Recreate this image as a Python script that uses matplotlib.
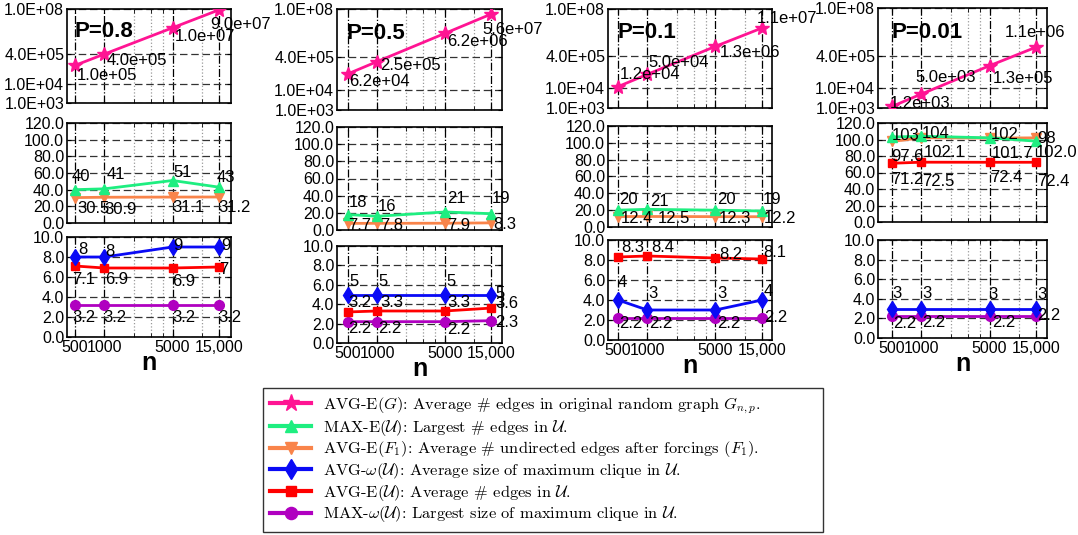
import matplotlib
matplotlib.use('Agg')
import matplotlib.pyplot as plt
from matplotlib.ticker import FixedLocator, NullFormatter, FuncFormatter, NullLocator
from matplotlib.lines import Line2D

plt.rcParams['font.family'] = ['Liberation Sans', 'DejaVu Sans']
plt.rcParams['mathtext.fontset'] = 'cm'

# --- data ---
n_values = [500, 1000, 5000, 15000]
n_labels = ['500', '1000', '5000', '15,000']
minor_n = [2000, 3000, 4000, 10000]
p_titles = ['P=0.8', 'P=0.5', 'P=0.1', 'P=0.01']

avg_edges_g = [[1.0e5, 4.0e5, 1.0e7, 9.0e7],
               [6.2e4, 2.5e5, 6.2e6, 5.6e7],
               [1.2e4, 5.0e4, 1.3e6, 1.1e7],
               [1.2e3, 5.0e3, 1.3e5, 1.1e6]]
max_edges_u = [[40, 41, 51, 43],
               [18, 16, 21, 19],
               [20, 21, 20, 19],
               [103, 104, 102, 98]]
avg_edges_f1 = [[30.5, 30.9, 31.1, 31.2],
                [7.7, 7.8, 7.9, 8.3],
                [12.4, 12.5, 12.3, 12.2],
                [97.6, 102.1, 101.7, 102.0]]
avg_clique_u = [[8, 8, 9, 9],
                [5, 5, 5, 5],
                [4, 3, 3, 4],
                [3, 3, 3, 3]]
avg_edges_u = [[7.1, 6.9, 6.9, 7.0],
               [3.2, 3.3, 3.3, 3.6],
               [8.3, 8.4, 8.2, 8.1],
               [71.2, 72.5, 72.4, 72.4]]
max_clique_u = [[3.2, 3.2, 3.2, 3.2],
                [2.2, 2.2, 2.2, 2.3],
                [2.2, 2.2, 2.2, 2.2],
                [2.2, 2.2, 2.2, 2.2]]

legend_labels = [
    r"AVG-E$(G)$: Average # edges in original random graph $G_{n,p}$.",
    r"MAX-E$(\mathcal{U})$: Largest # edges in $\mathcal{U}$.",
    r"AVG-E$(F_1)$: Average # undirected edges after forcings $(F_1)$.",
    r"AVG-$\omega(\mathcal{U})$: Average size of maximum clique in $\mathcal{U}$.",
    r"AVG-E$(\mathcal{U})$: Average # edges in $\mathcal{U}$.",
    r"MAX-$\omega(\mathcal{U})$: Largest size of maximum clique in $\mathcal{U}$.",
]

# --- styles ---
styles = {
    'g':   dict(color='#FF1493', marker='*', ms=10, fmt='{:.1e}'),
    'meu': dict(color='#1EEE80', marker='^', ms=7, fmt='{:d}'),
    'f1':  dict(color='#F9844A', marker='v', ms=7, fmt='{:.1f}'),
    'w':   dict(color='#0A0AF5', marker='d', ms=8, fmt='{:d}'),
    'eu':  dict(color='#FF0000', marker='s', ms=5.5, fmt='{:g}'),
    'mw':  dict(color='#B000C0', marker='o', ms=7, fmt='{:g}'),
}

# label offsets in pixels, per series, per column
offsets = {
    'g': [[(2, -10), (2, -6), (2, -9), (-9, -15)],
          [(1, -8), (3, -4), (2, -8), (-9, -15)],
          [(2, 12), (1, 12), (4, -6), (-5, 9)],
          [(-2, 3), (-6, 17), (3, -13), (-31, 15)]],
    'meu': [[(-3, 13), (2, 14), (1, 8), (-2, 10)],
            [(1, 12), (1, 10), (2, 13), (1, 15)],
            [(1, 11), (3, 8), (2, 11), (1, 12)],
            [(0, 2), (0, 3), (1, 3), (1, 3)]],
    'f1': [[(2, -11), (0, -12), (0, -10), (-1, -10)],
           [(0, -2), (3, -2), (2, -2), (2, -2)],
           [(3, -2), (10, -2), (3, -2), (2, -2)],
           [(-1, -15), (2, -15), (2, -15), (0, -15)]],
    'w': [[(3, 7), (1, 6), (1, 2), (2, 2)],
          [(1, 13), (1, 13), (2, 13), (4, 1)],
          [(0, 17), (1, 17), (2, 17), (2, 8)],
          [(0, 15), (1, 15), (-1, 14), (1, 14)]],
    'eu': [[(-3, -14), (1, -12), (0, -13), (0, -3)],
           [(0, 9), (3, 8), (2, 8), (4, 5)],
           [(3, 9), (4, 8), (4, 3), (1, 6)],
           [(-1, -16), (1, -19), (1, -15), (1, -19)]],
    'mw': [[(-3, -12), (-1, -12), (0, -12), (-1, -12)],
           [(0, -7), (1, -7), (2, -8), (4, -2)],
           [(1, -6), (2, -6), (2, -6), (2, 1)],
           [(1, -7), (1, -6), (3, -6), (1, 1)]],
}

# --- layout (pixel boxes) ---
W, H = 1078, 535
col_x = [(67, 231), (337, 502), (608, 772), (878, 1047)]
col_rows = [[(9, 103), (123, 223), (237, 337)],
            [(9, 110), (127, 230), (246, 343)],
            [(9, 108), (126, 227), (240, 340)],
            [(8, 108), (123, 222), (240, 338)]]
xlims = [(414, 19900), (385, 19430), (395, 19000), (359, 19430)]
title_x = [0.045, 0.06, 0.06, 0.08]

fig = plt.figure(figsize=(W / 100, H / 100), dpi=100)


def px_axes(x0, x1, y0, y1):
    return fig.add_axes([x0 / W, 1 - y1 / H, (x1 - x0) / W, (y1 - y0) / H])


def style_axes(ax, xlim):
    ax.set_xscale('log')
    ax.set_xlim(*xlim)
    ax.xaxis.set_major_locator(FixedLocator(n_values))
    ax.xaxis.set_minor_locator(FixedLocator(minor_n))
    ax.xaxis.set_minor_formatter(NullFormatter())
    ax.grid(True, which='major', axis='x', color='black', linestyle='-.', linewidth=0.9)
    ax.grid(True, which='minor', axis='x', color='0.6', linestyle=':', linewidth=0.9)
    ax.grid(True, which='major', axis='y', color='0.2', linestyle=(0, (6, 3)), linewidth=0.9)
    ax.tick_params(direction='in', which='both', top=True, right=True,
                   labelsize=11.5, length=3, pad=2)
    for s in ax.spines.values():
        s.set_linewidth(1.2)
    ax.set_axisbelow(True)


def draw(ax, key, vals, col):
    st = styles[key]
    ax.plot(n_values, vals, color=st['color'], marker=st['marker'], ms=st['ms'],
            lw=2, mec=st['color'], zorder=3)
    for x, v, (dx, dy) in zip(n_values, vals, offsets[key][col]):
        ax.annotate(st['fmt'].format(v), (x, v), xytext=(dx, dy),
                    textcoords='offset pixels', ha='left', va='center',
                    fontsize=12, zorder=4)


for c in range(4):
    x0, x1 = col_x[c]
    (t0, t1), (m0, m1), (b0, b1) = col_rows[c]
    ax_top = px_axes(x0, x1, t0, t1)
    ax_mid = px_axes(x0, x1, m0, m1)
    ax_bot = px_axes(x0, x1, b0, b1)
    for ax in (ax_top, ax_mid, ax_bot):
        style_axes(ax, xlims[c])

    # top: edges in G (log scale)
    ax_top.set_yscale('log')
    ax_top.set_ylim(1e3, 1e8)
    ax_top.yaxis.set_major_locator(FixedLocator([1e3, 1e4, 4e5, 1e8]))
    ax_top.yaxis.set_minor_locator(NullLocator())
    ax_top.yaxis.set_major_formatter(FuncFormatter(lambda v, p: f"{v:.1E}"))
    draw(ax_top, 'g', avg_edges_g[c], c)
    ax_top.text(title_x[c], 0.76, p_titles[c], transform=ax_top.transAxes,
                fontsize=16, fontweight='bold', ha='left', va='center')

    # middle: edges in U / F1
    ax_mid.set_ylim(0, 120)
    ax_mid.yaxis.set_major_locator(FixedLocator(range(0, 121, 20)))
    ax_mid.yaxis.set_major_formatter(FuncFormatter(lambda v, p: f"{v:.1f}"))
    draw(ax_mid, 'f1', avg_edges_f1[c], c)
    draw(ax_mid, 'meu', max_edges_u[c], c)

    # bottom: clique sizes
    ax_bot.set_ylim(0, 10)
    ax_bot.yaxis.set_major_locator(FixedLocator(range(0, 11, 2)))
    ax_bot.yaxis.set_major_formatter(FuncFormatter(lambda v, p: f"{v:.1f}"))
    draw(ax_bot, 'mw', max_clique_u[c], c)
    if avg_edges_u[c][0] > 10:
        draw(ax_mid, 'eu', avg_edges_u[c], c)
    else:
        draw(ax_bot, 'eu', avg_edges_u[c], c)
    draw(ax_bot, 'w', avg_clique_u[c], c)

    ax_top.tick_params(labelbottom=False)
    ax_mid.tick_params(labelbottom=False)
    ax_bot.set_xticklabels(n_labels)
    ax_bot.set_xlabel('n', fontsize=18, fontweight='bold', labelpad=-3)

# legend
handles = [Line2D([], [], color=styles[k]['color'], marker=styles[k]['marker'],
                  ms=styles[k]['ms'] * 1.25, lw=3)
           for k in ['g', 'meu', 'f1', 'w', 'eu', 'mw']]
leg = fig.legend(handles, legend_labels, loc='center', mode='expand',
                 bbox_to_anchor=(263 / W, 1 - 532 / H, 560 / W, 144 / H),
                 prop={'family': 'cmr10', 'size': 11.8}, frameon=True, fancybox=False,
                 edgecolor='black', handlelength=2.5, handletextpad=0.7,
                 labelspacing=0.1, borderpad=0.45, borderaxespad=0)
leg.get_frame().set_linewidth(1.0)

fig.savefig('out.png', dpi=100)
